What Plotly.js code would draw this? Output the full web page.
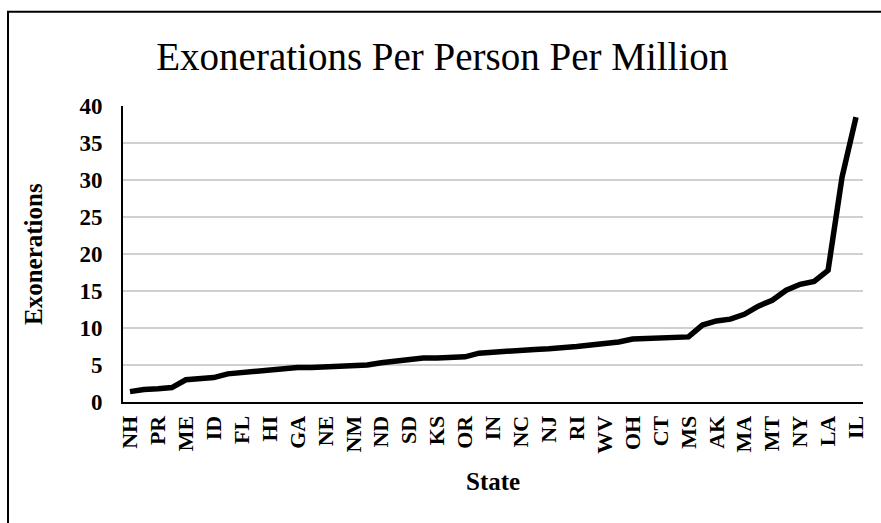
<!DOCTYPE html>
<html>
<head>
<meta charset="utf-8">
<script src="https://cdn.plot.ly/plotly-3.0.1.min.js"></script>
<style>
html,body{margin:0;padding:0;background:#fff;}
#chart{width:881px;height:523px;}
</style>
</head>
<body>
<div id="chart"></div>
<script>
// Categories (every other label is shown on the axis, as in the reference)
const states = ["NH","VT","PR","WY","ME","SC","ID","UT","FL","AR","HI","KY","GA","IA","NE","MN","NM","CO","ND","AZ","SD","NV","KS","VA","OR","AL","IN","TN","NC","MO","NJ","PA","RI","DE","WV","CA","OH","WA","CT","MD","MS","OK","AK","WI","MA","MI","MT","TX","NY","GU","LA","DC","IL"];
const exonerations = [1.4,1.7,1.8,1.95,3.0,3.1,3.3,3.8,4.0,4.2,4.3,4.5,4.65,4.65,4.75,4.8,4.9,5.0,5.3,5.55,5.8,5.95,5.95,5.95,6.1,6.6,6.75,6.9,7.1,7.1,7.2,7.3,7.5,7.7,7.9,8.1,8.5,8.6,8.6,8.8,8.8,10.4,10.95,11.2,11.85,12.95,13.75,15.1,15.9,16.3,17.8,30.4,38.5];
const shownLabels = states.filter((s, i) => i % 2 === 0);
const yTicks = [0,5,10,15,20,25,30,35,40];

const serif = '"Liberation Serif", "Times New Roman", serif';

const trace = {
  x: states,
  y: exonerations,
  type: 'scatter',
  mode: 'lines',
  line: {color: '#000000', width: 5.5},
  hoverinfo: 'x+y'
};

const layout = {
  width: 881,
  height: 523,
  margin: {l: 123, r: 18, t: 106, b: 121, pad: 0},
  paper_bgcolor: '#ffffff',
  plot_bgcolor: '#ffffff',
  showlegend: false,
  font: {family: serif, color: '#000000'},
  title: {
    text: 'Exonerations Per Person Per Million',
    font: {family: serif, size: 39, color: '#000000'},
    x: 0.502, xanchor: 'center',
    y: 0.893, yanchor: 'middle'
  },
  xaxis: {
    type: 'category',
    range: [-0.5, states.length - 0.5],
    tickmode: 'array',
    tickvals: shownLabels,
    ticktext: shownLabels,
    tickangle: -90,
    tickfont: {family: serif, size: 22, color: '#000000', weight: 'bold'},
    ticks: 'outside', ticklen: 3, tickcolor: 'rgba(0,0,0,0)',
    showgrid: false,
    showline: true, linecolor: '#000000', linewidth: 2,
    zeroline: false
  },
  yaxis: {
    range: [0, 40],
    tickmode: 'array',
    tickvals: yTicks,
    tickfont: {family: serif, size: 23, color: '#000000', weight: 'bold'},
    ticks: 'outside', ticklen: 14, tickcolor: 'rgba(0,0,0,0)',
    showgrid: true, gridcolor: '#d0d0d0', gridwidth: 1.5,
    showline: true, linecolor: '#000000', linewidth: 2,
    zeroline: false
  },
  annotations: [
    {
      text: '<b>Exonerations</b>', xref: 'paper', yref: 'paper',
      x: -0.1216, y: 0.50, xanchor: 'center', yanchor: 'middle',
      textangle: -90, showarrow: false,
      font: {family: serif, size: 25, color: '#000000'}
    },
    {
      text: '<b>State</b>', xref: 'paper', yref: 'paper',
      x: 0.50, y: -0.268, xanchor: 'center', yanchor: 'middle',
      showarrow: false,
      font: {family: serif, size: 25, color: '#000000'}
    }
  ],
  shapes: [{
    type: 'rect', xref: 'paper', yref: 'paper',
    x0: -0.1554, x1: 1.3, y0: -0.6, y1: 1.318,
    line: {color: '#000000', width: 2}, fillcolor: 'rgba(0,0,0,0)', layer: 'above'
  }]
};

Plotly.newPlot('chart', [trace], layout, {displayModeBar: false, staticPlot: true});
</script>
</body>
</html>
